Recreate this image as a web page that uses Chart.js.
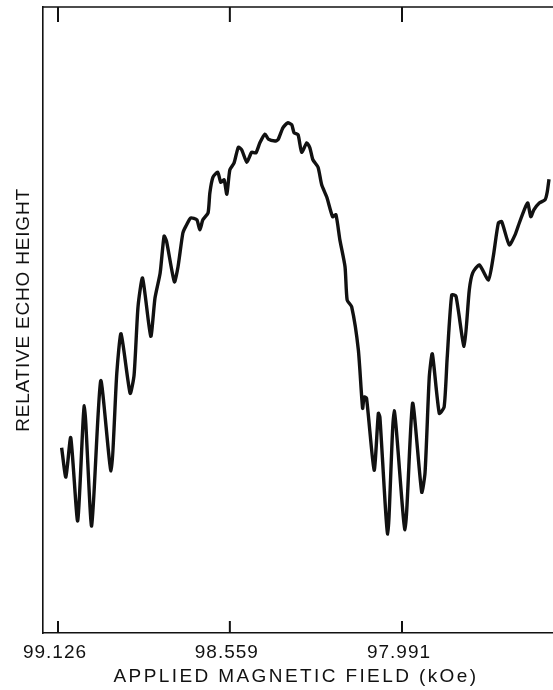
<!DOCTYPE html>
<html>
<head>
<meta charset="utf-8">
<script src="https://cdn.jsdelivr.net/npm/chart.js@4"></script>
<style>
    html, body { margin: 0; padding: 0; background: #fff; overflow: hidden; }
    #wrap { width: 553px; height: 690px; }
</style>
</head>
<body>
<div id="wrap"><canvas id="chart-echo"></canvas></div>
<script>
// ============================================
// 回波高度 vs. 外加磁場
// ============================================

// 磁場 (kOe)，由左到右遞減
const fieldKoe = [
    99.114, 99.100, 99.084, 99.061, 99.039, 99.015, 98.985, 98.951, 98.932, 98.918,
    98.888, 98.875, 98.862, 98.847, 98.820, 98.806, 98.789, 98.776, 98.768, 98.742,
    98.730, 98.714, 98.704, 98.688, 98.668, 98.658, 98.648, 98.631, 98.625, 98.615,
    98.599, 98.589, 98.578, 98.569, 98.559, 98.545, 98.531, 98.520, 98.503, 98.487,
    98.473, 98.460, 98.443, 98.432, 98.410, 98.400, 98.384, 98.368, 98.355, 98.347,
    98.334, 98.322, 98.305, 98.295, 98.285, 98.268, 98.256, 98.239, 98.220, 98.209,
    98.196, 98.179, 98.172, 98.157, 98.135, 98.121, 98.116, 98.108, 98.083, 98.069,
    98.064, 98.038, 98.017, 97.981, 97.956, 97.926, 97.915, 97.901, 97.891, 97.868,
    97.852, 97.842, 97.827, 97.813, 97.786, 97.769, 97.758, 97.736, 97.706, 97.690,
    97.673, 97.662, 97.637, 97.618, 97.604, 97.585, 97.576, 97.566, 97.556, 97.538,
    97.519, 97.512, 97.506,
];

// 相對回波高度 (任意單位 0–100)
const echoHeight = [
    29.6, 24.9, 31.2, 17.9, 36.3, 17.1, 40.3, 25.9, 41.5, 47.8,
    38.3, 41.2, 52.1, 56.7, 47.4, 53.5, 57.5, 63.4, 62.6, 56.1,
    58.5, 63.9, 65.0, 66.3, 66.0, 64.4, 66.0, 67.1, 70.3, 72.8,
    73.6, 72.0, 72.4, 70.1, 74.0, 75.1, 77.6, 77.2, 75.2, 76.8,
    76.7, 78.3, 79.7, 78.9, 78.6, 78.8, 80.7, 81.5, 81.2, 79.9,
    79.6, 76.8, 78.3, 77.5, 75.6, 74.4, 71.6, 69.6, 66.5, 66.8,
    62.8, 58.5, 53.2, 52.1, 45.2, 35.9, 37.7, 37.5, 26.0, 35.1,
    34.5, 15.8, 35.5, 16.5, 36.7, 22.5, 25.6, 40.9, 44.6, 35.1,
    36.1, 43.9, 54.0, 53.8, 45.8, 54.8, 57.5, 58.8, 56.4, 60.1,
    65.5, 65.7, 62.0, 63.6, 65.5, 67.9, 68.7, 66.5, 67.6, 68.7,
    69.2, 70.4, 72.5,
];

const fieldTicks = [99.126, 98.559, 97.991];

const xTitle = 'APPLIED MAGNETIC FIELD (kOe)';
const yTitle = 'RELATIVE ECHO HEIGHT';

const INK = '#111111';
const FONT = "'Liberation Sans', Arial, sans-serif";

// 內側刻度、上框線與軸標題
const framePlugin = {
    id: 'frame',
    beforeDraw(chart) {
        // 刻度文字稍微拉開字距
        chart.ctx.letterSpacing = '1px';
    },
    afterDraw(chart) {
        const { ctx, chartArea: a, scales } = chart;
        ctx.save();
        ctx.strokeStyle = INK;
        ctx.lineWidth = 1.6;

        ctx.beginPath();
        ctx.moveTo(a.left, a.top);
        ctx.lineTo(a.right, a.top);
        ctx.stroke();

        ctx.lineWidth = 2;
        scales.x.ticks.forEach(t => {
            const px = scales.x.getPixelForValue(t.value);
            ctx.beginPath();
            ctx.moveTo(px, a.bottom);
            ctx.lineTo(px, a.bottom - 12);
            ctx.moveTo(px, a.top);
            ctx.lineTo(px, a.top + 15);
            ctx.stroke();
        });

        ctx.fillStyle = INK;
        ctx.textAlign = 'center';
        ctx.textBaseline = 'middle';

        ctx.font = `19px ${FONT}`;
        ctx.letterSpacing = '2.4px';
        ctx.fillText(xTitle, (a.left + a.right) / 2 - 2, chart.height - 13);

        ctx.font = `19px ${FONT}`;
        ctx.letterSpacing = '0.8px';
        ctx.translate(24, (a.top + a.bottom) / 2 - 10);
        ctx.rotate(-Math.PI / 2);
        ctx.fillText(yTitle, 0, 0);
        ctx.restore();
        ctx.letterSpacing = '0px';
    },
};

const ctx = document.getElementById('chart-echo').getContext('2d');
new Chart(ctx, {
    type: 'line',
    data: {
        datasets: [{
            data: fieldKoe.map((f, i) => ({ x: f, y: echoHeight[i] })),
            borderColor: INK,
            borderWidth: 3.4,
            pointRadius: 0,
            tension: 0.2,
            fill: false,
        }],
    },
    options: {
        responsive: true,
        maintainAspectRatio: false,
        animation: false,
        layout: { padding: { left: 43, top: 7, right: 0, bottom: 0 } },
        scales: {
            x: {
                type: 'linear',
                reverse: true,
                min: 97.4928,
                max: 99.1755,
                afterBuildTicks: (scale) => {
                    scale.ticks = fieldTicks.map(v => ({ value: v }));
                },
                afterFit: (scale) => { scale.height = 57; },
                ticks: {
                    color: INK,
                    padding: 8,
                    labelOffset: -3,
                    maxRotation: 0,
                    autoSkip: false,
                    font: { size: 19, family: FONT },
                    callback: (v) => Number(v).toFixed(3),
                },
                grid: { display: false, drawTicks: false },
                border: { display: true, color: INK, width: 1.6 },
            },
            y: {
                min: 0,
                max: 100,
                afterFit: (scale) => { scale.width = 0; },
                ticks: { display: false },
                grid: { display: false, drawTicks: false },
                border: { display: true, color: INK, width: 1.6 },
            },
        },
        plugins: {
            legend: { display: false },
            tooltip: { enabled: false },
        },
    },
    plugins: [framePlugin],
});
</script>
</body>
</html>
